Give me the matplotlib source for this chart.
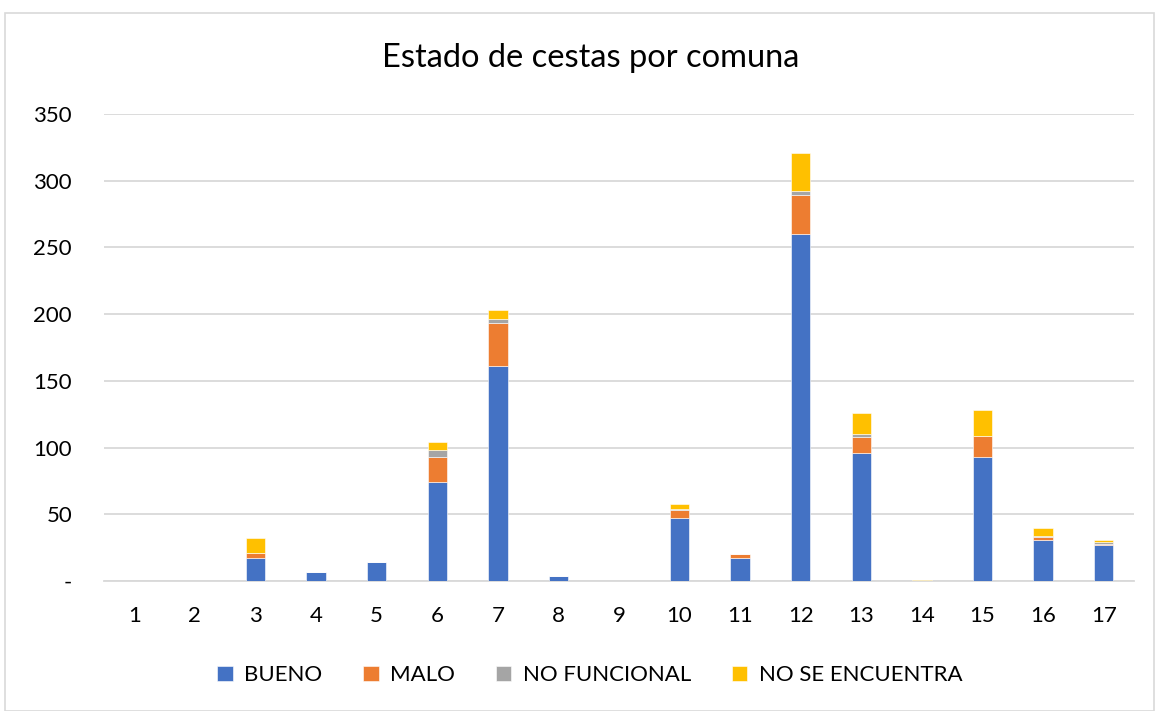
import matplotlib
matplotlib.use("Agg")
import matplotlib.pyplot as plt
import numpy as np
from matplotlib.patches import Rectangle

plt.rcParams['font.family'] = ['Lato', 'DejaVu Sans']

comunas = [str(i) for i in range(1, 18)]
bueno = [0, 0, 17, 7, 14, 74, 161, 4, 0, 47, 17, 260, 96, 0, 93, 31, 27]
malo = [0, 0, 4, 0, 0, 19, 32, 0, 0, 6, 3, 29, 12, 0, 16, 2, 1]
no_funcional = [0, 0, 0, 0, 0, 5, 3, 0, 0, 1, 0, 3, 2, 0, 0, 1, 1]
no_se_encuentra = [0, 0, 11, 0, 0, 6, 7, 0, 0, 4, 0, 29, 16, 1, 19, 6, 2]

series = [("BUENO", bueno, "#4472C4"),
          ("MALO", malo, "#ED7D31"),
          ("NO FUNCIONAL", no_funcional, "#A5A5A5"),
          ("NO SE ENCUENTRA", no_se_encuentra, "#FFC000")]
yticks = [0, 50, 100, 150, 200, 250, 300, 350]
ytick_labels = ["-", "50", "100", "150", "200", "250", "300", "350"]

fig = plt.figure(figsize=(11.61, 7.11), dpi=100)
ax = fig.add_axes([0.0896, 0.1828, 0.8871, 0.6569])

x = np.arange(len(comunas))
bottom = np.zeros(len(comunas))
for name, vals, col in series:
    vals = np.array(vals, dtype=float)
    ax.bar(x, vals, width=0.32, bottom=bottom, color=col, label=name,
           edgecolor='white', linewidth=0.4, zorder=3)
    bottom += vals

ax.set_xlim(-0.5, len(comunas) - 0.5)
ax.set_ylim(0, 350)
ax.set_yticks(yticks)
ax.set_yticklabels(ytick_labels)
ax.set_xticks(x)
ax.set_xticklabels(comunas)
ax.tick_params(axis='both', length=0, labelsize=16, colors='#000000')
ax.tick_params(axis='y', pad=23)
ax.tick_params(axis='x', pad=18)
for lab in ax.get_yticklabels():
    lab.set_horizontalalignment('right')
ax.grid(axis='y', color='#D9D9D9', linewidth=1.3, zorder=0)
ax.set_axisbelow(True)
for s in ['top', 'right', 'left']:
    ax.spines[s].set_visible(False)
ax.spines['bottom'].set_color('#D9D9D9')
ax.spines['bottom'].set_linewidth(1.3)

fig.text(0.509, 0.918, "Estado de cestas por comuna", ha='center', va='center',
         fontsize=23.5, color='#000000')

leg = fig.legend(loc='center', bbox_to_anchor=(0.508, 0.050), ncol=4, frameon=False,
                 fontsize=16, handlelength=0.7, handleheight=0.7, columnspacing=1.85,
                 handletextpad=0.5)

fig.patches.append(Rectangle((0.004, 0.0), 0.99, 0.982, transform=fig.transFigure,
                             fill=False, edgecolor='#D9D9D9', linewidth=1.2))

fig.savefig("out.png", dpi=100)
